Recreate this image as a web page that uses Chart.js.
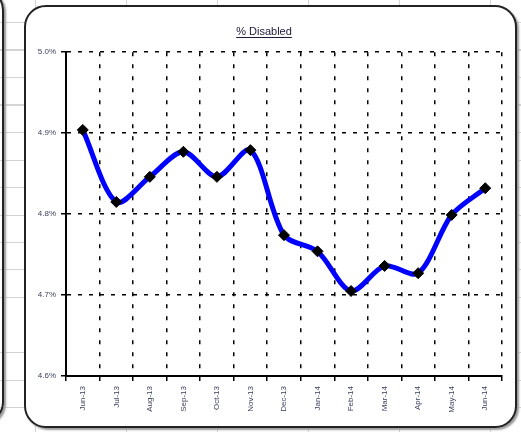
<!DOCTYPE html>
<html>
<head>
<meta charset="utf-8">
<script src="https://cdn.jsdelivr.net/npm/chart.js@4/dist/chart.umd.min.js"></script>
<style>
  html, body { margin: 0; padding: 0; }
  body {
    width: 521px; height: 432px; overflow: hidden; position: relative;
    background-color: #fff;
    background-image:
      repeating-linear-gradient(to bottom, transparent 0, transparent 22px, #d4d4d4 22px, #d4d4d4 23px, transparent 23px, transparent 27.5px),
      repeating-linear-gradient(to right, transparent 0, transparent 35px, #d4d4d4 35px, #d4d4d4 36px, transparent 36px, transparent 91px);
    font-family: "Liberation Sans", Arial, sans-serif;
  }
  #neighbour {
    position: absolute; left: -500px; top: -12px; width: 504px; height: 436px;
    box-sizing: border-box; border: 2px solid #222; border-radius: 22px;
    background: transparent; box-shadow: 2px 2px 2px #999;
  }
  #box {
    position: absolute; left: 24px; top: 5px; width: 493px; height: 423px;
    box-sizing: border-box; border: 2px solid #222; border-radius: 22px;
    background: #fff; box-shadow: 2px 2px 2px #999;
  }
  #wrap { position: absolute; left: 0; top: 0; width: 489px; height: 419px; }
</style>
</head>
<body>
<div id="neighbour"></div>
<div id="box"><div id="wrap"><canvas id="disabledChart"></canvas></div></div>
<script>
// Data
const months = ['Jun-13', 'Jul-13', 'Aug-13', 'Sep-13', 'Oct-13', 'Nov-13', 'Dec-13',
                'Jan-14', 'Feb-14', 'Mar-14', 'Apr-14', 'May-14', 'Jun-14'];
const disabledPct = [4.904, 4.815, 4.846, 4.877, 4.846, 4.879, 4.774,
                     4.754, 4.705, 4.736, 4.727, 4.799, 4.832];
const yMin = 4.6;
const yMax = 5.0;
const yStep = 0.1;

// underline under the title text
const titleUnderline = {
    id: 'titleUnderline',
    afterDraw(chart) {
        const tb = chart.titleBlock;
        if (!tb) return;
        const ctx = chart.ctx;
        const font = Chart.helpers.toFont(chart.options.plugins.title.font);
        ctx.save();
        ctx.font = font.string;
        const w = ctx.measureText(chart.options.plugins.title.text).width;
        const cx = tb.left + tb.width / 2;
        const y = tb.top + tb.options.padding.top + font.size + 1;
        ctx.strokeStyle = '#1a1a3a';
        ctx.lineWidth = 1;
        ctx.beginPath();
        ctx.moveTo(cx - w / 2, y + 0.5);
        ctx.lineTo(cx + w / 2, y + 0.5);
        ctx.stroke();
        ctx.restore();
    }
};

const ctx = document.getElementById('disabledChart').getContext('2d');
const chart = new Chart(ctx, {
    type: 'line',
    data: {
        labels: months,
        datasets: [{
            label: '% Disabled',
            data: disabledPct,
            borderColor: '#0000ff',
            borderWidth: 5,
            tension: 0.3,
            pointStyle: 'rectRot',
            pointRadius: 5.5,
            pointBackgroundColor: '#000',
            pointBorderColor: '#000',
            pointBorderWidth: 1,
            fill: false
        }]
    },
    options: {
        responsive: true,
        maintainAspectRatio: false,
        animation: false,
        layout: { padding: { left: 0, right: 13, top: 0, bottom: 0 } },
        plugins: {
            legend: { display: false },
            tooltip: { enabled: false },
            title: {
                display: true,
                text: '% Disabled',
                color: '#1a1a3a',
                font: { family: '"Liberation Sans", Arial, sans-serif', size: 11, weight: 'normal' },
                padding: { top: 18, bottom: 14 }
            }
        },
        scales: {
            x: {
                offset: true,
                grid: { offset: true, color: '#000', lineWidth: 1.5, tickLength: 5 },
                border: { display: true, color: '#000', width: 2, dash: [4, 8] },
                ticks: {
                    minRotation: 90, maxRotation: 90, padding: 5,
                    color: '#3a3f5c',
                    font: { family: '"Liberation Sans", Arial, sans-serif', size: 8 }
                },
                afterFit(scale) { scale.height = 50; }
            },
            y: {
                min: yMin,
                max: yMax,
                grid: { color: '#000', lineWidth: 1.5, tickLength: 5 },
                border: { display: true, color: '#000', width: 2, dash: [4, 7] },
                ticks: {
                    stepSize: yStep, padding: 5,
                    color: '#3a3f5c',
                    font: { family: '"Liberation Sans", Arial, sans-serif', size: 8 },
                    callback: v => v.toFixed(1) + '%'
                },
                afterFit(scale) { scale.width = 40; }
            }
        }
    },
    plugins: [titleUnderline]
});
</script>
</body>
</html>
